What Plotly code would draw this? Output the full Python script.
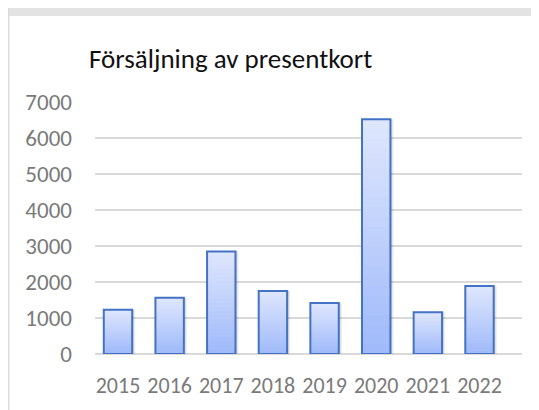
import plotly.graph_objects as go

years = ["2015", "2016", "2017", "2018", "2019", "2020", "2021", "2022"]
sales = [1230, 1560, 2850, 1750, 1420, 6520, 1160, 1890]
y_ticks = [0, 1000, 2000, 3000, 4000, 5000, 6000, 7000]
title_text = "Försäljning av presentkort"

FONT = "Carlito, Lato"
top_rgb = (222, 230, 253)
bot_rgb = (160, 186, 250)
N = 24
BW = 0.55

fig = go.Figure()
# soft shadow to the right
for sh, a in [(0.06, 0.07), (0.035, 0.09)]:
    fig.add_trace(go.Bar(
        x=years, y=sales, width=BW, offset=-BW / 2 + sh,
        marker=dict(color="rgba(0,0,0,%s)" % a, line=dict(width=0)),
        hoverinfo="skip", showlegend=False,
    ))
# gradient: overlapping bars from 0, shorter ones darker
for k in range(N):
    frac = (N - k) / N
    t = k / (N - 1)
    c = tuple(round(top_rgb[i] + (bot_rgb[i] - top_rgb[i]) * t) for i in range(3))
    fig.add_trace(go.Bar(
        x=years, y=[v * frac for v in sales], width=BW, offset=-BW / 2,
        marker=dict(color="rgb(%d,%d,%d)" % c, line=dict(width=0)),
        hoverinfo="skip", showlegend=False,
    ))
# outline
fig.add_trace(go.Bar(
    x=years, y=sales, width=BW, offset=-BW / 2,
    marker=dict(color="rgba(0,0,0,0)", line=dict(color="#4472c4", width=2)),
    showlegend=False,
))

# page has an 8px body margin, so figure coords = page coords - 8
W, H = 531, 402
L, R, T, B = 87, 17, 94, 56
pw, ph = W - L - R, H - T - B

def px(x):
    return (x - L) / pw

def py(y):
    return (H - B - y) / ph

shapes = [
    dict(type="rect", xref="paper", yref="paper", x0=px(0), x1=px(W + 10), y0=py(8), y1=py(0),
         fillcolor="#e3e3e3", line=dict(width=0), layer="below"),
    dict(type="rect", xref="paper", yref="paper", x0=px(0), x1=px(1.5), y0=py(H), y1=py(0),
         fillcolor="#dcdcdc", line=dict(width=0), layer="below"),
]

fig.update_layout(
    width=W, height=H,
    margin=dict(l=L, r=R, t=T, b=B),
    paper_bgcolor="white", plot_bgcolor="white",
    barmode="overlay",
    shapes=shapes,
    title=dict(text=title_text, xref="container", yref="container",
               x=81 / W, xanchor="left", y=1 - 51 / H, yanchor="middle",
               font=dict(family=FONT, size=27, color="#111111")),
    xaxis=dict(type="category", range=[-0.445, 7.823], showgrid=False, showline=False,
               ticks="", ticklabelstandoff=16,
               tickfont=dict(family=FONT, size=22, color="#7a7a7a")),
    yaxis=dict(range=[0, 7000], tickvals=y_ticks, showgrid=True, gridcolor="#d9d9d9",
               gridwidth=1.5, zeroline=True, zerolinecolor="#d9d9d9", zerolinewidth=1.5,
               ticks="", ticklabelstandoff=22,
               tickfont=dict(family=FONT, size=23, color="#7a7a7a")),
)

fig.write_html("out.html")
